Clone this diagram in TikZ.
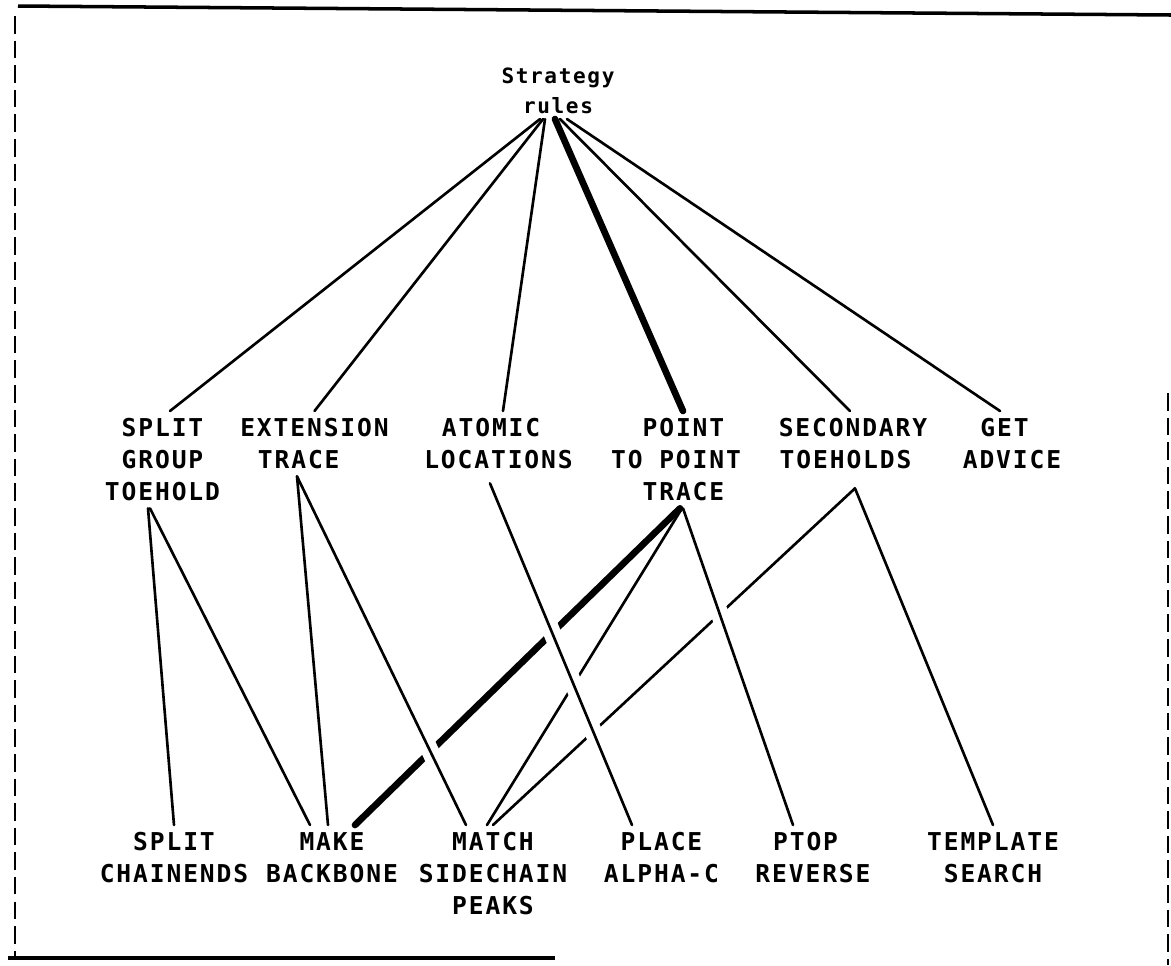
\documentclass[tikz,border=0pt]{standalone}
\usepackage{fontspec}
\newfontfamily\printfont[LetterSpace=7.7]{DejaVu Sans Mono}

\tikzset{
  box/.style={font={\printfont\bfseries\fontsize{14}{18.2}\selectfont}, align=center, inner sep=4pt, anchor=north},
  toplabel/.style={font={\printfont\bfseries\fontsize{12}{17}\selectfont}, align=center, inner sep=3pt, anchor=north},
  link/.style={line width=1.5pt, line cap=round},
  heavy/.style={line width=3.8pt, line cap=round},
  over/.style={preaction={draw=white, line width=10pt, shorten <=28pt, shorten >=28pt}},
  rim/.style={line width=2pt},
  cutline/.style={line width=1.3pt, dash pattern=on 10pt off 4pt},
}

\begin{document}
\begin{tikzpicture}[x=0.02cm,y=-0.02cm]
\useasboundingbox (0,0) rectangle (1171,965);
% frame
\draw[rim] (18,6) -- (1171,15);
\draw[rim] (8,958) -- (555,958);
\draw[cutline] (15,16) -- (15,958);
\draw[cutline] (1168,393) -- (1168,965);

\node[toplabel] (stg) at (558,62) {Strategy\\rules};

\node[box] (sgt) at (162.5,411) {SPLIT\\GROUP\\TOEHOLD};
\node[box] (ext) at (314.5,411) {EXTENSION\\TRACE\phantom{XX}};
\node[box] (atl) at (498.5,411) {ATOMIC\phantom{X}\\LOCATIONS};
\node[box] (ptp) at (676,411) {\phantom{X}POINT\\TO POINT\\\phantom{X}TRACE};
\node[box] (sec) at (853,411) {SECONDARY\\TOEHOLDS\phantom{X}};
\node[box] (adv) at (1012,411) {GET\phantom{X}\\ADVICE};

\node[box] (sch) at (174,825) {SPLIT\\CHAINENDS};
\node[box] (mbb) at (332,825) {MAKE\\BACKBONE};
\node[box] (msp) at (493,825) {MATCH\\SIDECHAIN\\PEAKS};
\node[box] (pac) at (661.5,825) {PLACE\\ALPHA-C};
\node[box] (ptr) at (813,825) {PTOP\phantom{X}\\REVERSE};
\node[box] (tsr) at (993,825) {TEMPLATE\\SEARCH};

% strategy rules to the strategies
\draw[link] ([xshift=-0.36cm]stg.south) -- ([xshift=0.15cm]sgt.north);
\draw[link] ([xshift=-0.3cm]stg.south) -- (ext.north);
\draw[link] ([xshift=-0.26cm]stg.south) -- ([xshift=0.09cm]atl.north);
\draw[heavy] ([xshift=-0.06cm]stg.south) -- ([xshift=0.14cm]ptp.north);
\draw[link] ([xshift=0.04cm]stg.south) -- ([xshift=-0.06cm]sec.north);
\draw[link] ([xshift=0.18cm]stg.south) -- ([xshift=-0.24cm]adv.north);

% strategies to actions
\draw[link] ([xshift=-0.29cm]sgt.south) -- (sch.north);
\draw[link] ([xshift=-0.25cm]sgt.south) -- ([xshift=-0.44cm]mbb.north);
\draw[link] ([xshift=-0.35cm]ext.south) -- ([xshift=-0.08cm]mbb.north);
\draw[heavy] ([xshift=0.08cm]ptp.south) -- ([xshift=0.46cm]mbb.north);
\draw[link] ([xshift=0.12cm]ptp.south) -- ([xshift=-0.12cm]msp.north);
\draw[link] ([xshift=0.04cm,yshift=-0.24cm]sec.south) -- (msp.north);
\draw[link] ([xshift=0.04cm,yshift=-0.24cm]sec.south) -- (tsr.north);
\draw[link,over] ([xshift=-0.35cm]ext.south) -- ([xshift=-0.54cm]msp.north);
\draw[link,over] ([xshift=-0.17cm,yshift=-0.14cm]atl.south) -- ([xshift=-0.59cm]pac.north);
\draw[link,over] ([xshift=0.14cm]ptp.south) -- ([xshift=-0.4cm]ptr.north);
    %
\end{tikzpicture}
\end{document}
